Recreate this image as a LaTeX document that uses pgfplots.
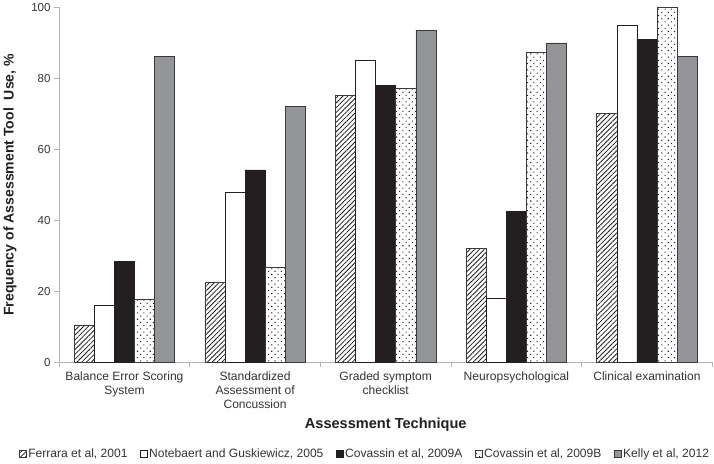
\documentclass[border=0pt]{standalone}
\usepackage{pgfplots}
\pgfplotsset{compat=1.18}
\usepackage{fontspec}
\setmainfont{Liberation Sans}
\usetikzlibrary{patterns.meta}
\definecolor{axisgray}{HTML}{B4B4B4}
\definecolor{txt}{HTML}{333333}
\definecolor{barblack}{HTML}{231F20}
\definecolor{bargray}{HTML}{939598}
\definecolor{edge}{HTML}{3A3A3A}
\begin{document}
\begin{tikzpicture}
\begin{axis}[
  scale only axis, width=650pt, height=353pt,
  ybar=0pt, bar width=20pt,
  xmin=-0.5, xmax=4.5, ymin=0, ymax=100,
  axis x line*=bottom, axis y line*=left,
  axis line style={draw=axisgray, line width=0.8pt, -},
  xtick={0,1,2,3,4},
  xticklabels={Balance Error Scoring\\System, Standardized\\Assessment of\\Concussion, Graded symptom\\checklist, Neuropsychological, Clinical examination},
  minor xtick={-0.5,0.5,1.5,2.5,3.5,4.5},
  major x tick style={draw=none},
  minor x tick style={draw=axisgray, line width=0.8pt},
  minor tick length=5pt,
  ytick={0,20,40,60,80,100},
  major tick length=5pt,
  tick align=outside,
  y tick style={draw=axisgray, line width=0.8pt},
  xticklabel style={align=center, font=\fontsize{12}{14}\selectfont, text=txt, yshift=-1pt},
  yticklabel style={font=\fontsize{11.5}{13}\selectfont, text=txt},
  /pgf/number format/assume math mode=true,
  ylabel={Frequency of Assessment Tool\ \ Use, \%},
  ylabel style={at={(axis description cs:-0.0754,0.5)}, anchor=center, font=\bfseries\fontsize{14}{16}\selectfont, text=barblack},
  xlabel={Assessment Technique},
  xlabel style={at={(axis description cs:0.5,-0.1756)}, anchor=center, font=\bfseries\fontsize{14.5}{16}\selectfont, text=barblack},
  legend columns=5,
  legend style={at={(axis description cs:0.468,-0.259)}, anchor=center, draw=none, fill=none,
    font=\fontsize{12}{14}\selectfont, text=txt,
    /tikz/every even column/.append style={column sep=10pt}},
  legend image code/.code={\draw[#1] (0pt,-3.5pt) rectangle (7pt,3.5pt);},
  legend cell align=left,
]
\addplot[draw=edge, line width=0.6pt, pattern={Lines[angle=45,distance=3.4pt,line width=0.8pt]}, pattern color=barblack]
  coordinates {(0,10.5) (1,22.4) (2,75.2) (3,32.1) (4,70.1)};
\addlegendentry{Ferrara et al, 2001}
\addplot[draw=barblack, line width=0.6pt, fill=white]
  coordinates {(0,16.0) (1,48.0) (2,85.1) (3,18.0) (4,95.1)};
\addlegendentry{Notebaert and Guskiewicz, 2005}
\addplot[draw=barblack, line width=0.6pt, fill=barblack]
  coordinates {(0,28.3) (1,54.2) (2,78.1) (3,42.6) (4,91.0)};
\addlegendentry{Covassin et al, 2009A}
\addplot[draw=edge, line width=0.6pt, pattern={Dots[distance=4.5pt,angle=45,radius=0.75pt]}, pattern color=barblack]
  coordinates {(0,17.8) (1,26.7) (2,77.2) (3,87.4) (4,100)};
\addlegendentry{Covassin et al, 2009B}
\addplot[draw=edge, line width=0.6pt, fill=bargray]
  coordinates {(0,86.3) (1,72.2) (2,93.6) (3,90.0) (4,86.3)};
\addlegendentry{Kelly et al, 2012}
\end{axis}
\end{tikzpicture}
\end{document}
